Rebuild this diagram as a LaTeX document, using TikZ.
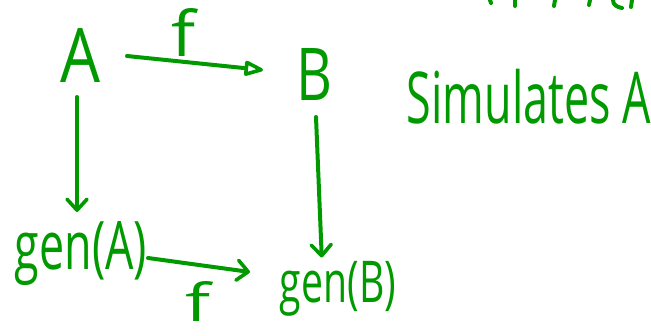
\documentclass[tikz,border=0pt]{standalone}
\usepackage{fontspec}
\usepackage{graphicx}
\setmainfont{Open Sans}
\usetikzlibrary{arrows.meta,calc}
\definecolor{ink}{RGB}{0,153,0}
\tikzset{
  word/.style={inner sep=0pt, outer sep=0pt, text=ink},
  pen/.style={draw=ink, line width=4pt, line cap=round, line join=round},
  barb/.style={pen, -{Straight Barb[length=11pt, width=20pt, line width=3.6pt, round]}},
  tri/.style={pen, -{Triangle[open, length=22pt, width=16pt, line width=3.6pt, round]}},
}
% text squeezed into a given box (width, total height)
\newcommand{\fitword}[3]{\resizebox*{#1}{#2}{#3}}
\begin{document}
\begin{tikzpicture}[x=1pt, y=-1pt]
  \useasboundingbox (0,0) rectangle (651,335);

  % objects
  \node[word] (A)    at (80,55)   {\fitword{40pt}{54pt}{A}};
  \node[word] (B)    at (315,74)  {\fitword{36pt}{52pt}{B}};
  \node[word] (genA) at (81,254)  {\fitword{132pt}{64pt}{gen(A)}};
  \node[word] (genB) at (338,289) {\fitword{116pt}{55pt}{gen(B)}};
  \node[word] (sim)  at (529,97)  {\fitword{244pt}{55pt}{Simulates A}};

  % morphism labels
  \node[word] (ftop) at (183,32)  {\fitword{24pt}{48pt}{f}};
  \node[word] (fbot) at (198,301) {\fitword{25pt}{40pt}{f}};

  % arrows
  \draw[tri]  ($(A.east)+(27,1)$) -- ($(B.west)+(-34,-4)$);
  \draw[barb] ($(A.south)+(-3,15)$) -- ($(genA.north)+(-4,-10)$);
  \draw[barb] ($(B.south)+(1,17)$) -- ($(genB.north west)!0.36!(genB.north east)+(0,-4)$);
  \draw[barb] ($(genA.east)+(1,4)$) -- ($(genB.west)+(-30,-17)$);

  % strokes of a line of writing running off the top edge
  \draw[pen] (490,0) -- (491,3);
  \draw[pen] (515,0) -- (515,6);
  \draw[pen] (555,0) -- (554,6);
  \draw[pen] (590,0) -- (589,5);
  \draw[pen] (613,0) .. controls (613,5) and (617,7) .. (622,8);
  \draw[pen] (632,0) -- (631,7);
\end{tikzpicture}
\end{document}
